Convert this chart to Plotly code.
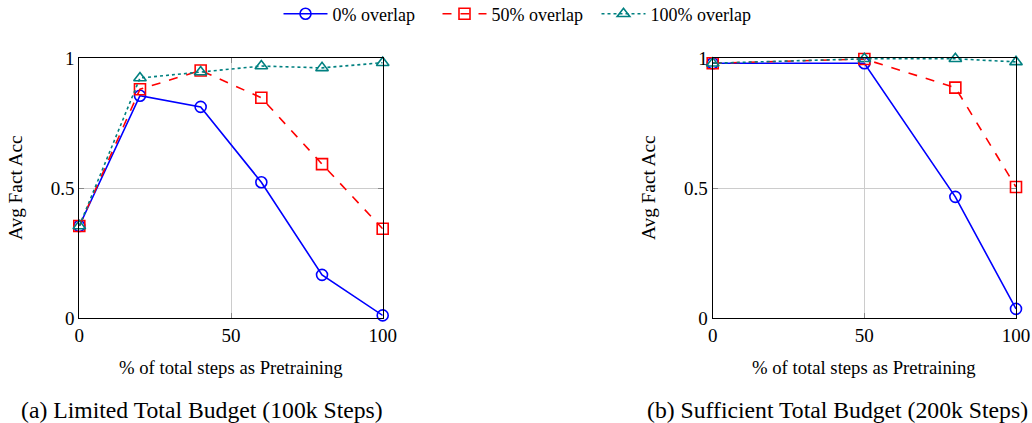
import plotly.graph_objects as go

# ---- data ----
x_a = [0, 20, 40, 60, 80, 100]
a_overlap0 = [0.354, 0.855, 0.812, 0.522, 0.166, 0.01]
a_overlap50 = [0.354, 0.88, 0.952, 0.847, 0.592, 0.343]
a_overlap100 = [0.354, 0.923, 0.946, 0.969, 0.962, 0.982]

x_b = [0, 50, 80, 100]
b_overlap0 = [0.98, 0.98, 0.466, 0.035]
b_overlap50 = [0.98, 0.996, 0.886, 0.504]
b_overlap100 = [0.98, 0.997, 0.997, 0.985]

series_names = ["0% overlap", "50% overlap", "100% overlap"]
x_ticks = [0, 50, 100]
y_ticks = [0, 0.5, 1]
x_title = "% of total steps as Pretraining"
y_title = "Avg Fact Acc"
captions = ["(a) Limited Total Budget (100k Steps)", "(b) Sufficient Total Budget (200k Steps)"]

W, H = 1032, 423
SERIF = "Liberation Serif"

styles = [
    dict(color="#0000ff", dash="solid", symbol="circle-open"),
    dict(color="#ff0000", dash="dash", symbol="square-open"),
    dict(color="#008080", dash="dot", symbol="triangle-up-open"),
]

fig = go.Figure()

def add_series(xs, ys_list, xaxis, yaxis, show):
    for name, ys, st in zip(series_names, ys_list, styles):
        fig.add_trace(go.Scatter(
            x=xs, y=ys, name=name, mode="lines+markers",
            line=dict(color=st["color"], dash=st["dash"], width=1.6),
            marker=dict(symbol=st["symbol"], size=11, color=st["color"],
                        line=dict(color=st["color"], width=1.6)),
            xaxis=xaxis, yaxis=yaxis, showlegend=show, cliponaxis=False,
        ))

add_series(x_a, [a_overlap0, a_overlap50, a_overlap100], "x", "y", True)
add_series(x_b, [b_overlap0, b_overlap50, b_overlap100], "x2", "y2", False)

def px_x(p):
    return p / W

def px_y(p):
    return 1 - p / H

dom_y = [px_y(318), px_y(58)]
dom_xa = [px_x(79.3), px_x(382.7)]
dom_xb = [px_x(712.7), px_x(1016)]

axis_common = dict(
    showline=True, linecolor="black", linewidth=1.2, mirror="all",
    showgrid=True, gridcolor="#cccccc", gridwidth=1,
    ticks="inside", ticklen=5, tickcolor="#888888",
    zeroline=False, automargin=False,
    tickfont=dict(family=SERIF, size=19, color="black"),
)

fig.update_layout(
    width=W, height=H,
    margin=dict(l=0, r=0, t=0, b=0, autoexpand=False),
    paper_bgcolor="white", plot_bgcolor="white",
    font=dict(family=SERIF, color="black"),
    xaxis=dict(domain=dom_xa, range=[0, 100], tickvals=x_ticks, anchor="y", **axis_common),
    yaxis=dict(domain=dom_y, range=[0, 1], tickvals=y_ticks, ticktext=["0", "0.5", "1"], anchor="x", **axis_common),
    xaxis2=dict(domain=dom_xb, range=[0, 100], tickvals=x_ticks, anchor="y2", **axis_common),
    yaxis2=dict(domain=dom_y, range=[0, 1], tickvals=y_ticks, ticktext=["0", "0.5", "1"], anchor="x2", **axis_common),
    legend=dict(orientation="h", x=px_x(517), xanchor="center", y=px_y(14), yanchor="middle",
                font=dict(family=SERIF, size=18, color="black"),
                itemwidth=44, entrywidth=100, entrywidthmode="pixels",
                tracegroupgap=0, bgcolor="rgba(0,0,0,0)"),
    showlegend=True,
)

ann = []
for dom, ycx, cap_cx, cap in [(dom_xa, 15, 201.5, captions[0]), (dom_xb, 648, 837, captions[1])]:
    cx = (dom[0] + dom[1]) / 2
    ann.append(dict(text=x_title, x=cx, y=px_y(367), xref="paper", yref="paper",
                    showarrow=False, xanchor="center", yanchor="middle",
                    font=dict(family=SERIF, size=18.7, color="black")))
    ann.append(dict(text=y_title, x=px_x(ycx), y=px_y(188), xref="paper", yref="paper",
                    showarrow=False, xanchor="center", yanchor="middle", textangle=-90,
                    font=dict(family=SERIF, size=19.3, color="black")))
    ann.append(dict(text=cap, x=px_x(cap_cx), y=px_y(410), xref="paper", yref="paper",
                    showarrow=False, xanchor="center", yanchor="middle",
                    font=dict(family=SERIF, size=23.7, color="black")))
fig.update_layout(annotations=ann)

# the page body has a default 8px margin; remove it so the figure fills the window
fig.write_html("out.html", config={"displayModeBar": False},
               post_script="document.body.style.margin='0';")
